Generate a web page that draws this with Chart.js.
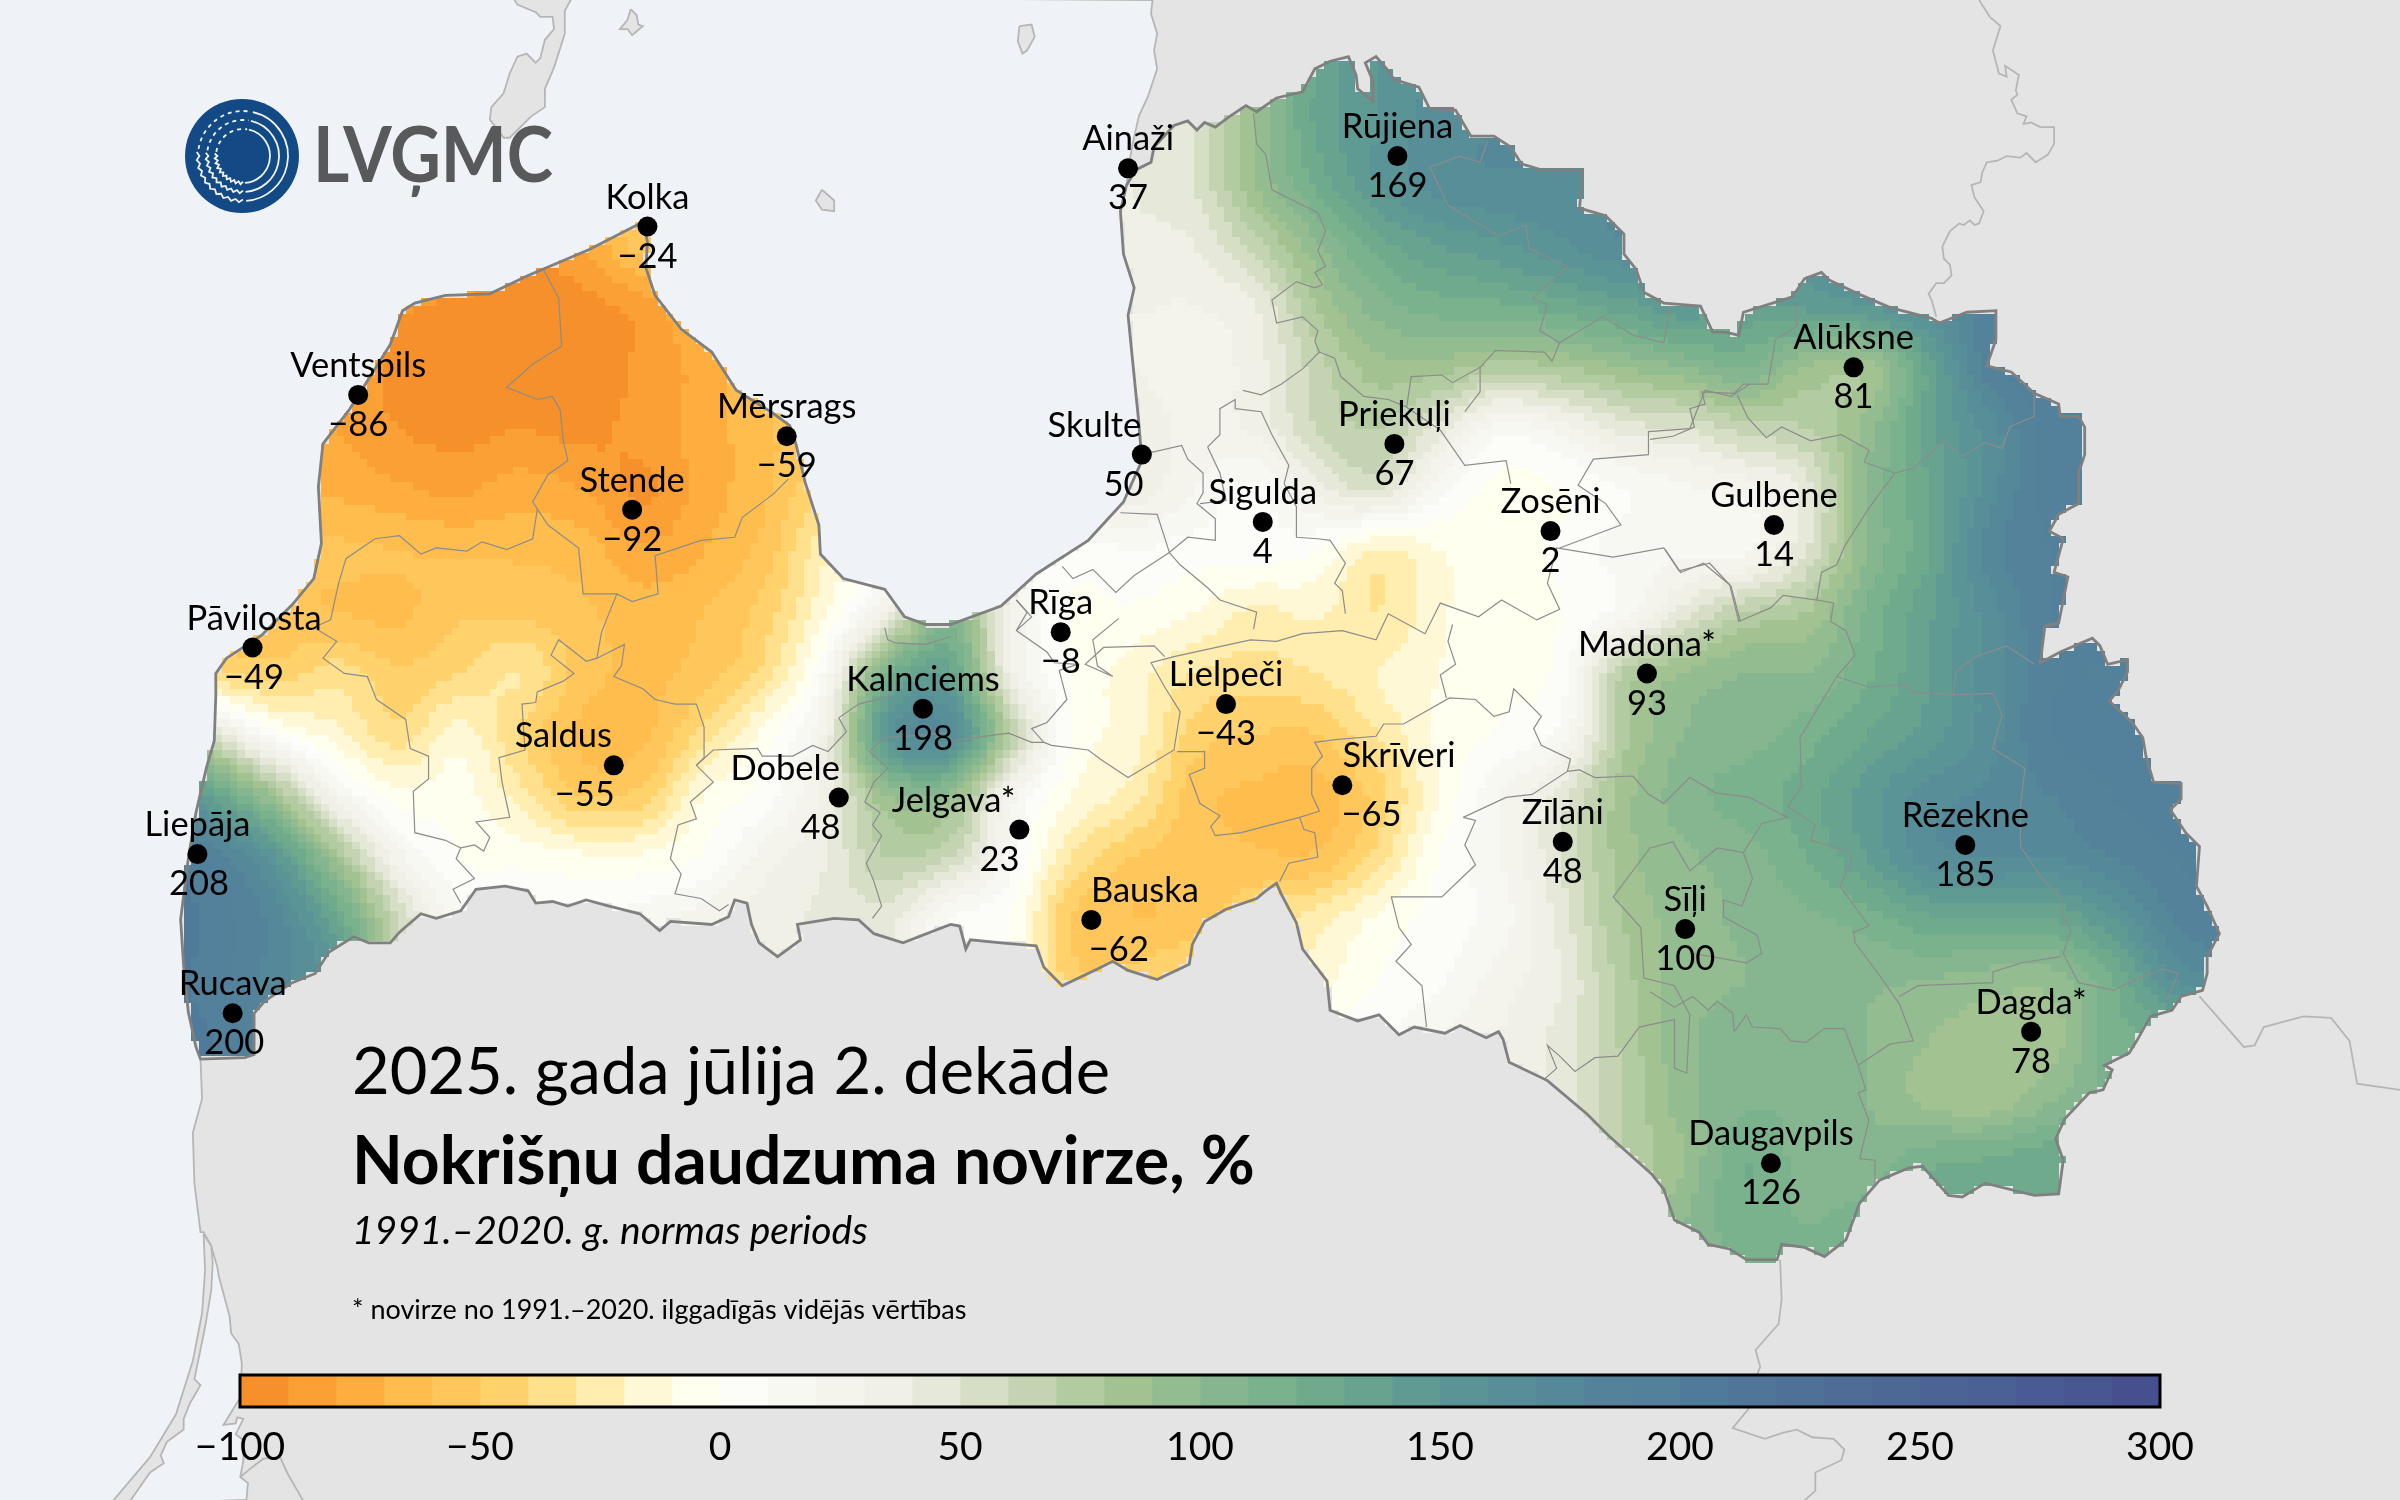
<!DOCTYPE html>
<html lang="lv">
<head>
<meta charset="utf-8">
<title>Nokrišņu daudzuma novirze</title>
<script src="https://cdn.jsdelivr.net/npm/chart.js@4"></script>
<style>
html,body{margin:0;padding:0;background:#E4E4E4;width:2400px;height:1500px;overflow:hidden}
canvas{position:absolute;left:0;display:block}
#mapChart{top:0}
#barChart{top:1360px}
</style>
</head>
<body>
<canvas id="mapChart" width="2400" height="1500"></canvas>
<canvas id="barChart" width="2400" height="140"></canvas>
<script>
/* ---------- stations ---------- */
const stationNames = ["Kolka","Ventspils","Mērsrags","Stende","Pāvilosta","Saldus","Liepāja","Rucava","Dobele","Kalnciems","Jelgava*","Rīga","Bauska","Lielpeči","Skrīveri","Ainaži","Skulte","Sigulda","Rūjiena","Priekuļi","Zosēni","Gulbene","Alūksne","Madona*","Zīlāni","Sīļi","Rēzekne","Dagda*","Daugavpils"];
const stationValues = [-24,-86,-59,-92,-49,-55,208,200,48,198,23,-8,-62,-43,-65,37,50,4,169,67,2,14,81,93,48,100,185,78,126];
const stationX = [423,234,514,413,165,401,129,152,548,603,666,693,713,801,877,737,746,825,913,911,1013,1159,1211,1076,1021,1101,1284,1327,1157];
const stationY = [148,258,285,333,423,500,558,662,521,463,542,413,601,460,513,110,297,341,102,290,347,343,240,440,550,607,552,674,760];
const nameShiftX = [0,0,0,0,1,-33,0,0,-35,0,-43,0,35,0,37,0,-31,0,0,0,0,0,0,0,0,0,0,0,0];
const valueShiftX = [0,0,0,0,1,-19,1,1,-12,0,-13,0,18,0,19,0,-12,0,0,0,0,0,0,0,0,0,0,0,0];

/* ---------- colour scale ---------- */
const bandBreaks = [-100,-90,-80,-70,-60,-50,-40,-30,-20,-10,0,10,20,30,40,50,60,70,80,90,100,110,120,130,140,150,160,170,180,190,200,210,220,230,240,250,260,270,280,290,300];
const bandColors = ["#f6902b","#faa035","#fdae3f","#febd4d","#ffc75b","#ffd26c","#ffe08c","#ffeeb0","#fef8d6","#fffff0","#fcfcf8","#f8f8f2","#f4f4ec","#f0f0e6","#e6e9da","#d6dfc6","#c4d4b2","#b2cba0","#a2c292","#93bc90","#86b68f","#7ab28e","#70aa8d","#68a38f","#609b93","#5a9496","#578e98","#558899","#54829a","#53809b","#507a99","#4f7698","#4f7197","#4e6c96","#4d6895","#4c6495","#4b6094","#4a5b93","#495790","#47508e"];
const barTicks = [-100,-50,0,50,100,150,200,250,300];

/* ---------- deviation field: columns every 40 map units from x=100, rows every 40 from y=40 ---------- */
const fieldColumns = [100,140,180,220,260,300,340,380,420,460,500,540,580,620,660,700,740,780,820,860,900,940,980,1020,1060,1100,1140,1180,1220,1260,1300,1340,1380,1420,1460];
const fieldRowY = [40,80,120,160,200,240,280,320,360,400,440,480,520,560,600,640,680,720,760,800,840];
const row040 = [-70,-70,-70,-70,-70,-70,-70,-70,-70,-70,20,20,20,20,20,20,30,50,90,130,150,160,165,168,168,168,168,168,168,168,168,168,168,168,168];
const row080 = [-70,-70,-70,-70,-70,-70,-70,-70,-70,-70,20,20,20,20,20,20,35,50,90,132,150,165,170,170,170,170,170,170,170,170,170,170,170,170,170];
const row120 = [-70,-70,-70,-70,-70,-70,-70,-60,-50,-50,-20,20,20,20,20,20,40,50,90,122,150,165,168,168,170,170,170,170,170,170,170,170,170,170,170];
const row160 = [-70,-70,-70,-70,-70,-70,-88,-80,-55,-50,-30,20,20,20,20,20,35,40,65,98,125,140,148,158,168,165,160,155,165,175,185,190,190,190,190];
const row200 = [-70,-70,-75,-78,-88,-92,-93,-93,-85,-65,-40,20,20,20,20,20,30,30,40,80,105,115,118,125,135,148,138,142,150,165,185,195,195,195,195];
const row240 = [-70,-75,-78,-82,-92,-94,-95,-95,-88,-75,-55,-20,20,20,20,25,30,25,35,65,85,85,75,80,90,100,110,90,85,135,185,200,200,200,200];
const row280 = [-75,-75,-78,-80,-90,-93,-90,-93,-86,-75,-62,-45,0,20,25,30,35,28,32,60,70,45,15,25,45,50,65,70,95,135,165,195,200,200,200];
const row320 = [-70,-70,-70,-72,-78,-82,-75,-80,-92,-75,-62,-35,0,20,25,30,35,20,8,35,50,15,-3,0,10,18,25,45,100,130,165,195,200,200,200];
const row360 = [-62,-60,-58,-58,-60,-62,-62,-65,-78,-70,-55,-20,5,50,15,5,10,5,5,0,-22,-10,-3,2,15,18,18,50,100,130,175,190,195,195,195];
const row400 = [-50,-50,-55,-60,-62,-52,-52,-58,-65,-60,-45,-10,35,100,30,0,-2,-10,-22,-18,-30,-12,-5,0,15,45,70,80,112,138,165,190,195,195,195];
const row440 = [-40,-40,-45,-35,-48,-40,-30,-55,-62,-55,-35,15,115,135,35,0,-15,-30,-35,-30,-20,-10,-2,5,70,90,100,100,118,140,165,188,190,195,195];
const row480 = [90,50,5,-15,-35,-15,-40,-62,-62,-35,-5,35,150,165,70,0,-15,-45,-50,-50,-30,-8,2,15,75,100,105,115,130,145,165,190,195,200,200];
const row520 = [175,135,85,25,-5,-5,-25,-50,-45,-10,5,35,90,95,25,-10,-25,-55,-62,-65,-45,-10,20,45,85,105,115,125,145,165,172,180,190,198,200];
const row560 = [200,185,150,85,25,0,-3,-8,-8,2,25,40,70,60,15,-30,-50,-55,-58,-58,-35,0,20,50,85,98,105,120,140,165,170,170,180,190,195];
const row600 = [210,195,175,130,60,15,10,10,15,25,35,42,45,10,0,-50,-60,-55,-40,-25,-8,5,15,45,80,95,102,108,115,128,130,130,150,180,190];
const row640 = [205,195,175,150,60,20,20,20,25,30,35,40,40,10,0,-45,-45,-35,-35,-15,0,8,25,40,75,95,100,102,102,100,95,95,120,160,170];
const row680 = [200,200,180,150,60,20,20,20,25,30,35,40,40,10,0,-30,-30,-25,-20,-2,8,20,30,45,72,97,105,105,100,90,85,85,115,120,130];
const row720 = [200,200,180,150,60,20,20,20,25,30,35,40,40,10,0,-30,-30,-25,-20,-2,8,20,30,45,70,95,108,108,100,88,85,100,115,115,115];
const row760 = [200,200,180,150,60,20,20,20,25,30,35,40,40,10,0,-30,-30,-25,-20,-2,8,20,30,45,70,90,120,105,105,118,122,128,125,125,125];
const row800 = [200,200,180,150,60,20,20,20,25,30,35,40,40,10,0,-30,-30,-25,-20,-2,8,20,30,45,80,100,115,110,115,120,120,125,125,125,125];
const row840 = [200,200,180,150,60,20,20,20,25,30,35,40,40,10,0,-30,-30,-25,-20,-2,8,20,30,45,80,100,112,115,115,120,120,125,125,125,125];
const fieldRows = [row040,row080,row120,row160,row200,row240,row280,row320,row360,row400,row440,row480,row520,row560,row600,row640,row680,row720,row760,row800,row840];

/* ---------- map geometry in map units ---------- */
const gulfCoast = [[420,145],[423,158],[422,175],[428,193],[445,215],[465,230],[481,255],[505,270],[516,278],[520,290],[526,315],[535,343],[536,362],[551,378],[578,385],[591,403],[605,408],[621,408],[654,396],[677,375],[711,353],[734,328],[746,301],[744,276],[739,226],[737,206],[741,188],[734,166],[732,138],[736,121]];
const landBorder = [[742,111],[752,106],[754,96],[767,82],[776,79],[782,85],[787,80],[794,83],[802,77],[814,69],[821,73],[834,64],[851,60],[859,45],[869,40],[881,37],[886,49],[887,58],[897,66],[897,53],[892,41],[899,37],[906,45],[911,52],[927,57],[934,71],[951,72],[961,89],[976,89],[987,96],[994,107],[1007,111],[1034,111],[1032,136],[1049,141],[1061,153],[1061,166],[1069,176],[1074,191],[1087,198],[1111,200],[1119,217],[1127,217],[1136,219],[1139,204],[1171,194],[1179,182],[1190,178],[1195,183],[1214,192],[1235,201],[1262,208],[1267,211],[1285,204],[1304,203],[1304,222],[1298,239],[1314,243],[1329,257],[1345,264],[1346,272],[1358,272],[1362,279],[1362,297],[1358,309],[1358,329],[1345,336],[1339,347],[1348,352],[1342,374],[1351,377],[1345,407],[1336,409],[1333,433],[1346,426],[1367,417],[1372,422],[1377,434],[1390,431],[1390,439],[1384,451],[1378,458],[1393,472],[1400,482],[1402,494],[1407,511],[1425,512],[1425,522],[1418,529],[1428,544],[1437,553],[1435,579],[1442,592],[1450,610],[1442,625],[1442,636],[1439,647],[1425,651],[1419,660],[1405,664],[1396,680],[1391,688],[1375,696],[1380,699],[1374,712],[1365,714],[1349,731],[1343,744],[1348,758],[1345,780],[1329,781],[1297,773],[1282,782],[1273,781],[1256,762],[1247,763],[1228,771],[1215,786],[1206,810],[1192,821],[1179,815],[1164,813],[1161,823],[1141,823],[1130,816],[1116,813],[1110,805],[1094,797],[1087,777],[1079,767],[1051,742],[1037,728],[1011,706],[986,694],[982,679],[979,674],[971,678],[954,670],[944,675],[924,671],[914,676],[901,663],[887,667],[869,660],[867,641],[851,620],[847,603],[837,584],[834,577],[827,582],[821,587],[801,594],[787,602],[779,617],[777,630],[756,640],[737,634],[727,628],[717,633],[694,644],[682,632],[677,618],[654,616],[634,614],[631,620],[627,605],[621,604],[590,616],[571,610],[561,601],[545,600],[521,604],[523,614],[508,625],[496,616],[491,604],[488,590],[480,588],[476,599],[465,604],[438,602],[431,608],[418,597],[398,592],[383,588],[371,592],[361,589],[350,590],[345,582],[330,579],[311,581],[301,595],[285,600],[275,597],[261,609],[255,616],[241,616],[231,612],[215,622],[206,636],[191,642],[173,654],[166,662],[166,689],[160,691]];
const westCoast = [[131,692],[128,684],[123,661],[120,631],[118,601],[123,561],[128,531],[135,501],[140,484],[141,454],[141,440],[148,430],[171,415],[191,395],[205,378],[210,355],[208,318],[211,290],[228,268],[255,225],[263,203],[271,198],[291,193],[320,192],[345,180],[385,163],[420,145]];
const estoniaCoast = [[753,0],[752,9],[756,22],[754,33],[756,45],[750,63],[744,76],[740,94],[738,105]];
const lithuaniaCoast = [[132,718],[126,740],[127,773],[131,805],[133,805],[138,814],[142,828],[143,834],[150,860],[151,871],[156,878],[158,891],[157,913],[146,931],[154,930],[155,926],[159,927],[154,937],[159,941],[159,954],[157,965],[162,969],[161,980]];
const curonianSpit = [[133,806],[134,830],[132,858],[126,889],[115,924],[98,952],[70,985],[82,985],[98,962],[107,956],[105,951],[109,942],[120,934],[120,927],[124,917],[131,905],[127,901],[134,867],[138,843],[139,825],[138,814]];
const saaremaa = [[335,-2],[338,3],[350,8],[353,11],[361,11],[362,19],[356,26],[353,38],[350,41],[344,35],[338,37],[333,48],[329,61],[321,70],[320,78],[329,90],[333,90],[347,76],[356,70],[356,58],[362,44],[369,22],[369,7],[374,-2]];
const kihnu = [[412,6],[416,10],[417,16],[420,17],[413,23],[410,19],[405,19],[410,13]];
const islandNorth = [[666,17],[674,16],[676,24],[671,33],[668,35],[665,27]];
const ruhnu = [[537,124],[545,131],[545,138],[537,137],[533,131]];
const foreignLines = [
 [[1293,0],[1300,11],[1307,17],[1302,33],[1306,48],[1311,50],[1310,43],[1319,49],[1317,59],[1318,62],[1314,65],[1318,74],[1324,76],[1322,81],[1327,80],[1333,83],[1342,83],[1342,94],[1338,101],[1330,106],[1324,100],[1320,103],[1311,102],[1305,105],[1298,106],[1295,113],[1294,119],[1288,121],[1290,129],[1296,138],[1293,146],[1290,147],[1287,144],[1283,147],[1280,146],[1274,151],[1269,161],[1270,169],[1274,173],[1275,180],[1270,185],[1265,185],[1260,192],[1262,196],[1265,207]],
 [[1437,651],[1466,684],[1473,683],[1479,671],[1505,664],[1523,665],[1535,680],[1540,708],[1568,712]],
 [[1163,823],[1164,849],[1162,865],[1147,882],[1150,893],[1148,898],[1142,921],[1132,933],[1153,940],[1165,936],[1174,934],[1184,939],[1198,940],[1205,947],[1203,954],[1186,962],[1186,974],[1177,982]],
 [[157,965],[163,960],[172,953],[183,952],[188,963],[199,982]]
];
const districtLines = [
 [[355,176],[365,195],[367,226],[348,238],[331,253],[351,261],[361,259],[366,268],[368,288],[371,301],[358,310],[348,328],[358,343],[378,358],[381,388],[403,388],[413,393],[430,388],[428,363],[458,353],[480,351],[485,338],[505,323],[515,313]],
 [[351,333],[348,352],[331,359],[315,354],[305,360],[285,358],[275,362],[261,350],[245,352],[226,365],[221,382],[216,405],[205,410],[220,419],[211,430],[225,440],[240,442],[246,457],[265,470],[268,489],[280,494],[280,509],[270,517],[271,544],[291,549],[301,554],[298,561],[310,574],[296,581],[301,590]],
 [[403,388],[393,413],[390,430],[383,432],[365,418],[360,428],[375,440],[368,445],[351,452],[350,459],[341,460],[343,490],[326,495],[328,511],[333,534],[311,537],[320,547],[316,556],[310,552],[301,554]],
 [[390,430],[408,421],[406,435],[401,442],[420,450],[428,457],[441,460],[455,460],[460,475],[460,495],[455,500],[466,511],[451,524],[455,535],[443,539],[438,561],[445,571],[441,584],[458,587],[470,595],[476,591]],
 [[455,500],[466,490],[495,489],[498,494],[518,494],[531,487],[541,491],[553,478],[548,469],[561,460],[581,455]],
 [[618,479],[578,482],[568,491],[580,502],[571,511],[565,524],[575,531],[570,539],[576,546],[566,564],[571,576],[576,592],[570,600]],
 [[578,410],[580,418],[585,420],[605,421],[621,416]],
 [[621,484],[659,479],[674,485],[682,485],[674,476],[684,472],[697,457],[692,438],[704,434],[689,433],[684,426],[664,412],[671,400],[664,392]],
 [[682,485],[687,487],[711,490],[719,496],[737,508],[767,490],[771,465],[761,449],[752,433],[767,429],[817,418],[834,419],[851,414],[877,412],[899,418],[907,401],[931,414],[941,394],[966,403],[981,392],[1004,405],[1019,398],[1011,381],[1017,358],[1054,364],[1087,358],[1097,373],[1117,368],[1131,383],[1137,406]],
 [[1019,358],[1059,343],[1049,329],[1031,317],[1041,300],[1077,297],[1077,282],[1104,280],[1114,255],[1131,259],[1143,251]],
 [[1078,287],[1093,285],[1107,279],[1104,267],[1114,264],[1112,256],[1133,257],[1139,251],[1155,251],[1160,222],[1174,213],[1173,199]],
 [[1135,258],[1142,273],[1154,286],[1164,279],[1183,288],[1203,284],[1221,294],[1218,302],[1238,309],[1250,306],[1270,288],[1282,298],[1297,289],[1308,293],[1313,279],[1329,272],[1329,257]],
 [[1238,309],[1221,332],[1205,357],[1200,369],[1190,374],[1187,392],[1165,389],[1157,397],[1136,406],[1130,382],[1113,368],[1098,374],[1088,359]],
 [[1187,392],[1198,394],[1196,406],[1206,412],[1212,428],[1200,442],[1176,482],[1177,514],[1168,527],[1186,539],[1183,549],[1209,557],[1209,564],[1202,579],[1221,605],[1211,609],[1212,616],[1227,636],[1241,656],[1250,680],[1235,682],[1214,696]],
 [[1200,442],[1221,449],[1244,447],[1250,452],[1276,454],[1302,453],[1308,467],[1302,489],[1323,502],[1320,527],[1320,553],[1335,575],[1346,586],[1348,599],[1353,608],[1348,623],[1358,642],[1381,647],[1393,641],[1413,633],[1423,636],[1416,653]],
 [[1276,454],[1278,439],[1291,429],[1311,422],[1329,434]],
 [[1346,625],[1321,629],[1302,635],[1302,642],[1253,644],[1241,651]],
 [[1168,534],[1151,538],[1139,557],[1122,554],[1104,569],[1093,550],[1078,554],[1054,586],[1072,606],[1074,639],[1094,644],[1104,663],[1102,701],[1094,698],[1094,666],[1071,671],[1057,690],[1042,691],[1029,700],[1019,690],[1011,683],[1017,698],[1009,705]],
 [[1139,557],[1145,574],[1138,592],[1126,588],[1126,599],[1148,611],[1151,623],[1141,629],[1107,623]],
 [[1214,696],[1219,712],[1214,714],[1221,732],[1215,757],[1225,758],[1225,773]],
 [[1214,696],[1205,672],[1192,672],[1180,681],[1170,680],[1163,672],[1145,671],[1141,663],[1133,674],[1132,662],[1122,654],[1116,660],[1106,651],[1094,658],[1078,648]],
 [[956,534],[984,521],[1001,519],[1024,504],[1026,496],[1007,487],[1002,476],[1007,468],[989,450],[986,465],[976,468],[964,457],[947,456],[917,473],[904,473],[899,481],[874,483],[859,485],[864,494],[857,502],[857,519],[862,530],[849,534],[811,544],[794,546],[791,540],[797,533],[784,525],[777,506],[787,502],[787,491],[769,491]],
 [[849,534],[852,542],[859,544],[861,560],[842,564],[836,576]],
 [[945,456],[941,441],[951,434],[946,419],[949,408]],
 [[956,534],[964,536],[957,552],[964,565],[942,586],[909,586],[914,606],[922,617],[912,628],[929,644],[932,671]],
 [[1024,504],[1032,503],[1042,508],[1067,507],[1077,519],[1087,525],[1104,508],[1121,518],[1143,521],[1160,530],[1168,534]],
 [[746,297],[772,291],[776,300],[786,309],[786,322],[782,329],[794,339],[794,353],[776,351],[764,361],[756,336],[732,335]],
 [[764,361],[741,376],[729,387],[714,372],[701,378],[694,370]],
 [[764,361],[771,369],[789,384],[797,392],[821,400],[819,411]],
 [[789,292],[797,284],[797,267],[807,261],[807,267],[824,269],[831,284],[842,304],[839,316],[847,331],[847,351],[861,352],[869,353],[879,368],[872,381],[877,386],[879,401]],
 [[789,292],[797,309],[801,327],[784,329]],
 [[812,255],[824,258],[837,251],[851,241],[862,230],[859,223],[861,216],[851,207],[834,211],[831,196],[847,184],[859,188],[864,186],[859,178],[866,174],[861,164],[866,151],[861,139],[841,129],[831,124],[827,101],[821,94],[819,74]],
 [[862,230],[872,234],[876,246],[891,259],[907,261],[919,266],[941,281],[957,304],[984,301],[987,316]],
 [[919,266],[922,246],[942,245],[949,250],[967,240],[967,256],[957,269]],
 [[967,240],[977,229],[1009,230],[1014,236],[1019,224],[1006,216],[1011,199],[1001,195],[1024,174],[999,162],[997,147],[979,154],[946,134],[934,109],[954,102],[967,106],[972,92]],
 [[1019,224],[1047,207],[1067,219],[1087,224],[1091,201]],
 [[664,412],[674,403],[664,392]],
 [[731,404],[714,418],[717,435],[727,442],[709,434],[721,423],[754,422],[761,429]]
];

/* ---------- texts ---------- */
const titleLines = [
 {t:"2025. gada jūlija 2. dekāde", f:"65px Lato", w:765, y:1073},
 {t:"Nokrišņu daudzuma novirze, %", f:"bold 66px Lato", w:908, y:1163},
 {t:"1991.–2020. g. normas periods", f:"italic 39px Lato", w:518, y:1231},
 {t:"* novirze no 1991.–2020. ilggadīgās vidējās vērtības", f:"27px Lato", w:622, y:1310}
];
const logoText = "LVĢMC";

/* ---------- helpers ---------- */
const toPts = a => a.map(p => ({x:p[0], y:p[1]}));
const latviaRing = gulfCoast.concat(landBorder, westCoast);
const seaRing = [[-5,-5]].concat(estoniaCoast, gulfCoast.slice().reverse(), westCoast.slice().reverse(), lithuaniaCoast, [[-5,985],[-5,-5]]);
const minus = v => String(v).replace("-", "\u2212");
function bandColor(v){
  let i = Math.floor((v - bandBreaks[0]) / 10);
  return bandColors[Math.max(0, Math.min(bandColors.length - 1, i))];
}
function inRing(x, y, ring){
  let c = false;
  for (let i = 0, j = ring.length - 1; i < ring.length; j = i++){
    const a = ring[i], b = ring[j];
    if ((a[1] > y) !== (b[1] > y) && x < (b[0]-a[0])*(y-a[1])/(b[1]-a[1]) + a[0]) c = !c;
  }
  return c;
}
function cr(p0,p1,p2,p3,t){
  return 0.5*((2*p1)+(-p0+p2)*t+(2*p0-5*p1+4*p2-p3)*t*t+(-p0+3*p1-3*p2+p3)*t*t*t);
}
function sampleField(x, y){
  const nx = fieldColumns.length, ny = fieldRowY.length;
  let fx = (x - fieldColumns[0]) / 40, fy = (y - fieldRowY[0]) / 40;
  fx = Math.max(0, Math.min(nx - 1.001, fx)); fy = Math.max(0, Math.min(ny - 1.001, fy));
  const ix = Math.floor(fx), iy = Math.floor(fy), tx = fx - ix, ty = fy - iy;
  const vals = [];
  for (let k = -1; k <= 2; k++){
    const r = fieldRows[Math.max(0, Math.min(ny - 1, iy + k))];
    const g = n => r[Math.max(0, Math.min(nx - 1, n))];
    vals.push(cr(g(ix-1), g(ix), g(ix+1), g(ix+2), tx));
  }
  return cr(vals[0], vals[1], vals[2], vals[3], ty);
}

/* ---------- plugins ---------- */
const fieldLayer = {
  id: "fieldLayer",
  afterDatasetDraw(chart, args){
    if (chart.data.datasets[args.index].label !== "Latvija") return;
    const sx = chart.scales.x, sy = chart.scales.y, ctx = chart.ctx, step = 5;
    ctx.save();
    for (let x = 115; x < 1455; x += step){
      for (let y = 35; y < 830; y += step){
        if (!inRing(x + step/2, y + step/2, latviaRing)) continue;
        ctx.fillStyle = bandColor(sampleField(x + step/2, y + step/2));
        const px = sx.getPixelForValue(x), py = sy.getPixelForValue(y);
        ctx.fillRect(Math.round(px), Math.round(py),
          Math.round(sx.getPixelForValue(x + step)) - Math.round(px),
          Math.round(sy.getPixelForValue(y + step)) - Math.round(py));
      }
    }
    ctx.restore();
  }
};
const labelLayer = {
  id: "labelLayer",
  afterDatasetsDraw(chart){
    const sx = chart.scales.x, sy = chart.scales.y, ctx = chart.ctx;
    ctx.save();
    ctx.fillStyle = "#000";
    ctx.textAlign = "center";
    ctx.textBaseline = "middle";
    ctx.font = "34.5px Lato";
    stationNames.forEach((n, i) => {
      ctx.fillText(n, sx.getPixelForValue(stationX[i] + nameShiftX[i]), sy.getPixelForValue(stationY[i]) - 29);
      ctx.fillText(minus(stationValues[i]), sx.getPixelForValue(stationX[i] + valueShiftX[i]), sy.getPixelForValue(stationY[i]) + 30);
    });
    ctx.textAlign = "left";
    titleLines.forEach(l => {
      ctx.font = l.f;
      ctx.fillText(l.t, 352, l.y, l.w);
    });
    drawLogo(ctx);
    ctx.restore();
  }
};
function drawLogo(ctx){
  const cx = 242, cy = 156;
  ctx.fillStyle = "#134A85";
  ctx.beginPath(); ctx.arc(cx, cy, 57, 0, Math.PI*2); ctx.fill();
  ctx.strokeStyle = "#F0F3F7"; ctx.lineWidth = 1.8;
  [27, 36, 45].forEach(r => {
    const c = cx + 1, d = cy;
    ctx.setLineDash([]);
    ctx.beginPath(); ctx.arc(c, d, r, -1.35, 1.5); ctx.stroke();
    ctx.beginPath();
    for (let a = 90, k = 0; a <= 186; a += 5, k++){
      const rr = r + (k % 2 ? 1.4 : -1.4), t = a*Math.PI/180;
      const X = c + rr*Math.cos(t), Y = d + rr*Math.sin(t);
      k ? ctx.lineTo(X, Y) : ctx.moveTo(X, Y);
    }
    ctx.stroke();
    ctx.setLineDash([4, 4]);
    ctx.beginPath(); ctx.arc(c, d, r, Math.PI*1.05, Math.PI*1.55); ctx.stroke();
    ctx.setLineDash([]);
  });
  ctx.fillStyle = "#58595B";
  ctx.textAlign = "left";
  ctx.font = "bold 76px Lato";
  ctx.fillText(logoText, 313, 157, 240);
}

/* ---------- map chart ---------- */
const lineDefaults = {showLine:true, pointRadius:0, pointHoverRadius:0, tension:0, fill:false};
const mapDatasets = [
  {label:"Stacijas", data:stationX.map((x,i)=>({x, y:stationY[i]})), pointRadius:10, pointHoverRadius:10, backgroundColor:"#000", borderWidth:0, showLine:false, order:1},
  Object.assign({}, lineDefaults, {label:"Robeža", data:toPts(latviaRing.concat([latviaRing[0]])), borderColor:"#808080", borderWidth:2.8, order:2})
];
districtLines.forEach((d,i) => mapDatasets.push(Object.assign({}, lineDefaults, {label:"Novads "+(i+1), data:toPts(d), borderColor:"#8c8c8c", borderWidth:1.2, order:3})));
mapDatasets.push(Object.assign({}, lineDefaults, {label:"Latvija", data:toPts(latviaRing.concat([latviaRing[0]])), borderColor:"#808080", borderWidth:0, fill:false, order:5}));
foreignLines.forEach((d,i) => mapDatasets.push(Object.assign({}, lineDefaults, {label:"Kaimiņu robeža "+(i+1), data:toPts(d), borderColor:"#b6b6b6", borderWidth:1.8, order:6})));
[["Sāmsala",saaremaa],["Kihnu",kihnu],["Sala",islandNorth],["Roņu sala",ruhnu],["Kuršu kāpa",curonianSpit]].forEach(p => {
  mapDatasets.push(Object.assign({}, lineDefaults, {label:p[0], data:toPts(p[1].concat([p[1][0]])), borderColor:"#b6b6b6", borderWidth:1.8, fill:"shape", backgroundColor:"#E4E4E4", order:7}));
});
mapDatasets.push(Object.assign({}, lineDefaults, {label:"Jūra", data:toPts(seaRing), borderColor:"#b6b6b6", borderWidth:1.8, fill:"shape", backgroundColor:"#EFF3F7", order:8}));

new Chart(document.getElementById("mapChart"), {
  type: "scatter",
  data: {datasets: mapDatasets},
  plugins: [fieldLayer, labelLayer],
  options: {
    responsive:false, animation:false, devicePixelRatio:1, events:[],
    layout:{padding:0, autoPadding:false},
    scales:{
      x:{type:"linear", min:0, max:1568, display:false},
      y:{type:"linear", min:0, max:980, reverse:true, display:false}
    },
    plugins:{legend:{display:false}, tooltip:{enabled:false}, title:{display:false}}
  }
});

/* ---------- colour bar chart ---------- */
const barFrame = {
  id:"barFrame",
  afterDraw(chart){
    const a = chart.chartArea, ctx = chart.ctx;
    ctx.save(); ctx.strokeStyle = "#000"; ctx.lineWidth = 3;
    ctx.strokeRect(a.left, a.top, a.right - a.left, a.bottom - a.top);
    ctx.restore();
  }
};
new Chart(document.getElementById("barChart"), {
  type:"bar",
  data:{
    labels:["Novirze, %"],
    datasets:bandColors.map((c,i)=>({label:bandBreaks[i]+"…"+bandBreaks[i+1], data:[[bandBreaks[i],bandBreaks[i+1]]], backgroundColor:c, borderWidth:0, borderSkipped:false, grouped:false, barPercentage:1, categoryPercentage:1}))
  },
  plugins:[barFrame],
  options:{
    indexAxis:"y", responsive:false, animation:false, devicePixelRatio:1, events:[],
    layout:{padding:{left:240,right:240,top:15,bottom:0}},
    scales:{
      x:{type:"linear", min:-100, max:300, afterFit(s){s.height=93;},
         afterBuildTicks(s){s.ticks = barTicks.map(v=>({value:v}));},
         grid:{display:false}, border:{display:false},
         ticks:{color:"#000", padding:9, maxRotation:0, font:{family:"Lato", size:39}, callback:v=>minus(v)}},
      y:{display:false}
    },
    plugins:{legend:{display:false}, tooltip:{enabled:false}}
  }
});
</script>
</body>
</html>
